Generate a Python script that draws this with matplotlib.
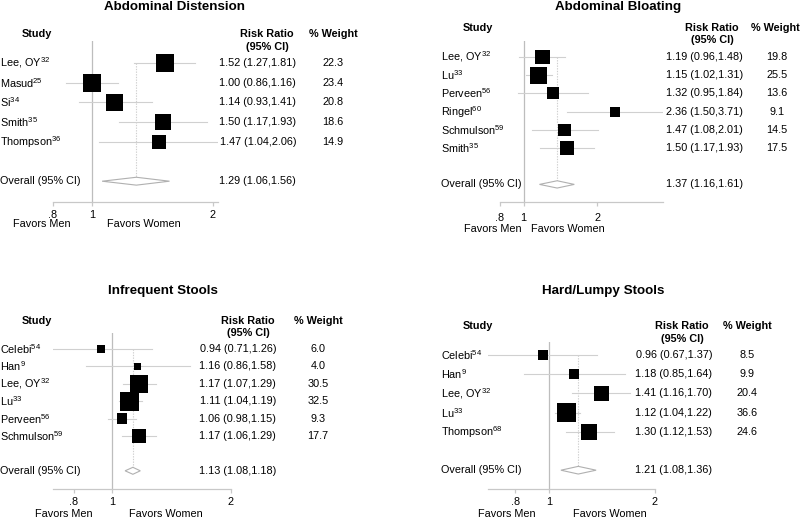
import numpy as np
import matplotlib
matplotlib.use("Agg")
from matplotlib import pyplot as plt
from matplotlib.patches import Polygon
from matplotlib.ticker import FixedLocator, FixedFormatter, NullLocator

plt.rcParams['font.family'] = ['Liberation Sans', 'DejaVu Sans']
plt.rcParams['mathtext.fontset'] = 'custom'
plt.rcParams['mathtext.rm'] = 'Liberation Sans'

# ---- data ----
dist_title = "Abdominal Distension"
dist_study = ["Lee, OY", "Masud", "Si", "Smith", "Thompson"]
dist_ref = ["32", "25", "34", "35", "36"]
dist_rr = [1.52, 1.00, 1.14, 1.50, 1.47]
dist_lo = [1.27, 0.86, 0.93, 1.17, 1.04]
dist_hi = [1.81, 1.16, 1.41, 1.93, 2.06]
dist_w = [22.3, 23.4, 20.8, 18.6, 14.9]
dist_overall = [1.29, 1.06, 1.56]

bloat_title = "Abdominal Bloating"
bloat_study = ["Lee, OY", "Lu", "Perveen", "Ringel", "Schmulson", "Smith"]
bloat_ref = ["32", "33", "56", "60", "59", "35"]
bloat_rr = [1.19, 1.15, 1.32, 2.36, 1.47, 1.50]
bloat_lo = [0.96, 1.02, 0.95, 1.50, 1.08, 1.17]
bloat_hi = [1.48, 1.31, 1.84, 3.71, 2.01, 1.93]
bloat_w = [19.8, 25.5, 13.6, 9.1, 14.5, 17.5]
bloat_overall = [1.37, 1.16, 1.61]

infreq_title = "Infrequent Stools"
infreq_study = ["Celebi", "Han", "Lee, OY", "Lu", "Perveen", "Schmulson"]
infreq_ref = ["54", "9", "32", "33", "56", "59"]
infreq_rr = [0.94, 1.16, 1.17, 1.11, 1.06, 1.17]
infreq_lo = [0.71, 0.86, 1.07, 1.04, 0.98, 1.06]
infreq_hi = [1.26, 1.58, 1.29, 1.19, 1.15, 1.29]
infreq_w = [6.0, 4.0, 30.5, 32.5, 9.3, 17.7]
infreq_overall = [1.13, 1.08, 1.18]

hard_title = "Hard/Lumpy Stools"
hard_study = ["Celebi", "Han", "Lee, OY", "Lu", "Thompson"]
hard_ref = ["54", "9", "32", "33", "68"]
hard_rr = [0.96, 1.18, 1.41, 1.12, 1.30]
hard_lo = [0.67, 0.85, 1.16, 1.04, 1.12]
hard_hi = [1.37, 1.64, 1.70, 1.22, 1.53]
hard_w = [8.5, 9.9, 20.4, 36.6, 24.6]
hard_overall = [1.21, 1.08, 1.36]

tick_vals = [0.8, 1, 2]
tick_labels = [".8", "1", "2"]

W, H = 800, 520
fig = plt.figure(figsize=(8, 5.2), dpi=100)
FS = 7.8


def fx(x):
    return x / W


def fy(y):
    return 1 - y / H


def forest(data, lay):
    title, study, ref, rr, lo, hi, w, overall = data
    n = len(study)
    y0, dy = lay['y0'], lay['dy']
    xlo = min(min(lo), 0.8)
    xhi = max(max(hi), 2)

    fig.text(fx(lay['title'][0]), fy(lay['title'][1]), title, ha='center', va='center',
             fontsize=9.6, fontweight='bold')
    hy = lay['hdr_y']
    fig.text(fx(lay['study_hdr']), fy(hy), "Study", ha='center', va='center', fontsize=FS, fontweight='bold')
    fig.text(fx(lay['rr_hdr']), fy(hy), "Risk Ratio", ha='center', va='center', fontsize=FS, fontweight='bold')
    fig.text(fx(lay['rr_hdr']), fy(hy + lay['hdr_dy']), "(95% CI)", ha='center', va='center',
             fontsize=FS, fontweight='bold')
    fig.text(fx(lay['w_hdr']), fy(hy), "% Weight", ha='center', va='center', fontsize=FS, fontweight='bold')

    for i in range(n):
        yy = fy(y0 + i * dy)
        fig.text(fx(lay['label_x']), yy, study[i] + r"$^{\mathrm{" + ref[i] + "}}$",
                 ha='left', va='center', fontsize=FS)
        fig.text(fx(lay['rr_x']), yy, f"{rr[i]:.2f} ({lo[i]:.2f},{hi[i]:.2f})",
                 ha='right', va='center', fontsize=FS)
        fig.text(fx(lay['w_x']), yy, f"{w[i]:.1f}", ha='center', va='center', fontsize=FS)
    yo = fy(y0 + (n + 1) * dy)
    fig.text(fx(lay['label_x']), yo, "Overall (95% CI)", ha='left', va='center', fontsize=FS)
    fig.text(fx(lay['rr_x']), yo, f"{overall[0]:.2f} ({overall[1]:.2f},{overall[2]:.2f})",
             ha='right', va='center', fontsize=FS)

    pl, pr = lay['px_lo'], lay['px_hi']
    top, bot = lay['null_top'], lay['axis_y']
    ax = fig.add_axes([fx(pl), fy(bot), (pr - pl) / W, (bot - top) / H])
    ax.set_xscale('log')
    ax.set_xlim(xlo, xhi)
    ax.set_ylim((bot - y0) / dy, (top - y0) / dy)
    for s in ['top', 'left', 'right']:
        ax.spines[s].set_visible(False)
    ax.spines['bottom'].set_color('#c8c8c8')
    ax.spines['bottom'].set_linewidth(0.9)
    ax.set_yticks([])
    ax.xaxis.set_major_locator(FixedLocator(tick_vals))
    ax.xaxis.set_major_formatter(FixedFormatter(tick_labels))
    ax.xaxis.set_minor_locator(NullLocator())
    ax.tick_params(axis='x', length=3, color='#c8c8c8', width=0.9, labelsize=FS, pad=lay['pad'])
    ax.patch.set_alpha(0)

    ax.axvline(1, color='#bdbdbd', lw=0.9, zorder=1)
    rows = np.arange(n)
    for i in range(n):
        ax.plot([lo[i], hi[i]], [rows[i], rows[i]], color='#d0d0d0', lw=0.8, zorder=2)
    side = lay['k'] * 0.72
    ax.scatter(rr, rows, s=side ** 2 * np.array(w), marker='s', color='black',
               linewidths=0, zorder=3)
    ov = n + 1
    hh = 0.2
    ax.plot([overall[0], overall[0]], [0, ov - hh], color='#cfcfcf', lw=0.8,
            dashes=(1.2, 1.2), zorder=1)
    ax.add_patch(Polygon([[overall[1], ov], [overall[0], ov - hh], [overall[2], ov],
                          [overall[0], ov + hh]], closed=True, facecolor='white',
                         edgecolor='#b0b0b0', lw=0.8, zorder=3))

    fig.text(fx(lay['men_x']), fy(lay['fav_y']), "Favors Men", ha='center', va='center', fontsize=FS)
    fig.text(fx(lay['women_x']), fy(lay['fav_y']), "Favors Women", ha='center', va='center', fontsize=FS)


forest((dist_title, dist_study, dist_ref, dist_rr, dist_lo, dist_hi, dist_w, dist_overall),
       dict(title=(175, 7), hdr_y=34, hdr_dy=13, study_hdr=37, rr_hdr=267, w_hdr=333,
            y0=63, dy=19.7, label_x=0, rr_x=296, w_x=333,
            px_lo=53, px_hi=218, null_top=41, axis_y=202, pad=2.9,
            k=3.75, fav_y=224, men_x=42, women_x=144))

forest((bloat_title, bloat_study, bloat_ref, bloat_rr, bloat_lo, bloat_hi, bloat_w, bloat_overall),
       dict(title=(618, 7), hdr_y=28, hdr_dy=12, study_hdr=478, rr_hdr=712, w_hdr=775,
            y0=57, dy=18.2, label_x=441, rr_x=743, w_x=777,
            px_lo=500, px_hi=663, null_top=41, axis_y=202, pad=5.0,
            k=3.3, fav_y=229, men_x=493, women_x=568))

forest((infreq_title, infreq_study, infreq_ref, infreq_rr, infreq_lo, infreq_hi, infreq_w, infreq_overall),
       dict(title=(163, 291), hdr_y=321, hdr_dy=12, study_hdr=37, rr_hdr=248, w_hdr=318,
            y0=349, dy=17.4, label_x=0, rr_x=276, w_x=318,
            px_lo=53, px_hi=231, null_top=333, axis_y=489, pad=2.5,
            k=3.35, fav_y=514, men_x=64, women_x=166))

forest((hard_title, hard_study, hard_ref, hard_rr, hard_lo, hard_hi, hard_w, hard_overall),
       dict(title=(603, 291), hdr_y=326, hdr_dy=13, study_hdr=478, rr_hdr=682, w_hdr=747,
            y0=355, dy=19.2, label_x=441, rr_x=712, w_x=747,
            px_lo=488, px_hi=655, null_top=342, axis_y=489, pad=2.5,
            k=3.2, fav_y=514, men_x=507, women_x=610))

fig.savefig("out.png", dpi=100)
